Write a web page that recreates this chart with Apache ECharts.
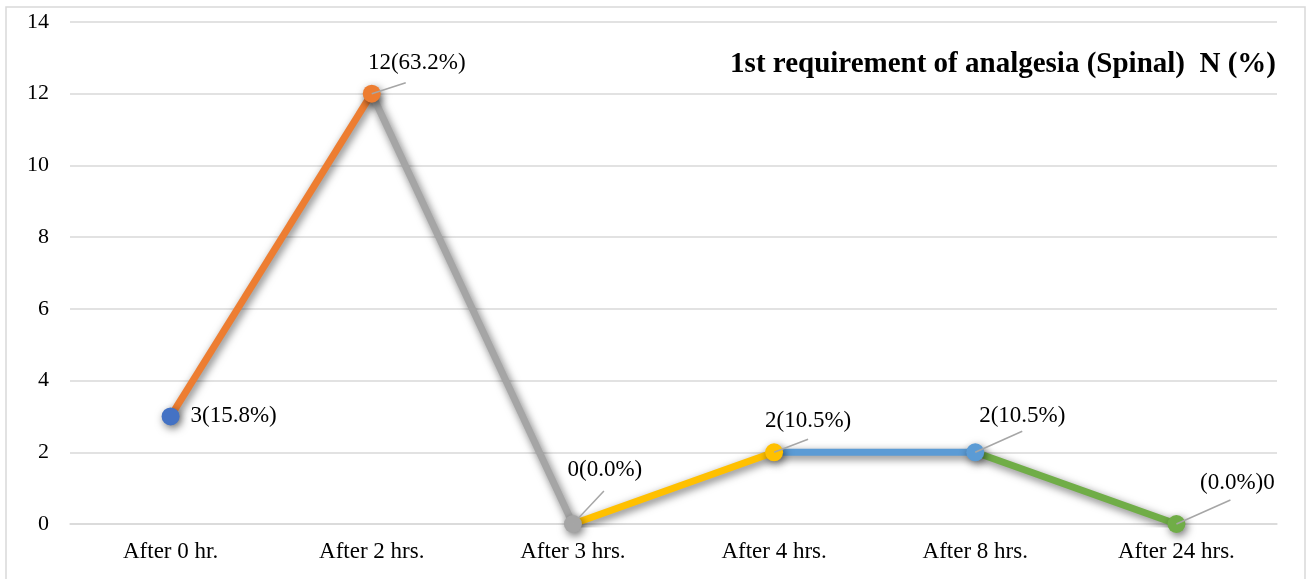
<!DOCTYPE html>
<html>
<head>
<meta charset="utf-8">
<script src="https://cdn.jsdelivr.net/npm/echarts@6/dist/echarts.min.js"></script>
<style>
  html, body { margin: 0; padding: 0; background: #fff; }
  #chart { width: 1308px; height: 579px; }
</style>
</head>
<body>
<div id="chart"></div>
<script>
const categories = ['After 0 hr.', 'After 2 hrs.', 'After 3 hrs.', 'After 4 hrs.', 'After 8 hrs.', 'After 24 hrs.']
const counts = [3, 12, 0, 2, 2, 0]
const labelTexts = ['3(15.8%)', '12(63.2%)', '0(0.0%)', '2(10.5%)', '2(10.5%)', '(0.0%)0']
const yTicks = [0, 2, 4, 6, 8, 10, 12, 14]

// excel "vary colors by point" palette
const pointColors = ['#4472C4', '#ED7D31', '#A5A5A5', '#FFC000', '#5B9BD5', '#70AD47']
// label offsets from the marker centre (px), and leader line ends, like the dragged labels
const labelOffsets = [[63, 0], [45, -31], [32, -54], [34, -31], [47, -36], [61, -41]]
const leaderEnds = [null, [34, -11], [31, -33], [34, -13], [47, -21], [54, -24]]

const font = '"Liberation Serif", "Times New Roman", serif'
const shadow = {
    shadowColor: 'rgba(0,0,0,0.55)',
    shadowBlur: 8,
    shadowOffsetX: 2,
    shadowOffsetY: 3
}

var myChart = echarts.init(document.getElementById('chart'))

const segments = counts.slice(0, -1).map((v, i) => ({
    type: 'line',
    data: counts.map((c, j) => (j === i || j === i + 1) ? c : null),
    showSymbol: false,
    silent: true,
    z: 2,
    lineStyle: Object.assign({ color: pointColors[i + 1], width: 7 }, shadow)
}))

const points = {
    type: 'scatter',
    symbolSize: 18,
    z: 3,
    silent: true,
    data: counts.map((c, i) => ({
        value: c,
        itemStyle: { color: pointColors[i] }
    })),
    itemStyle: Object.assign({ opacity: 1 }, shadow),
    label: {
        show: true,
        position: 'inside',
        color: '#000',
        fontFamily: font,
        fontSize: 23,
        formatter: (p) => labelTexts[p.dataIndex]
    },
    labelLayout: (p) => ({ dx: labelOffsets[p.dataIndex][0], dy: labelOffsets[p.dataIndex][1] })
}

// short grey leader lines from the marker to its label
const leaders = {
    type: 'custom',
    z: 4,
    silent: true,
    data: counts.map((c, i) => [i, c]),
    renderItem: (params, api) => {
        const end = leaderEnds[params.dataIndex]
        if (!end) return null
        const p = api.coord([api.value(0), api.value(1)])
        return {
            type: 'line',
            shape: { x1: p[0], y1: p[1], x2: p[0] + end[0], y2: p[1] + end[1] },
            style: { stroke: '#a6a6a6', lineWidth: 1.5 }
        }
    }
}

const option = {
    animation: false,
    title: {
        text: '1st requirement of analgesia (Spinal)  N (%)',
        right: 27,
        top: 45,
        textStyle: {
            fontFamily: font,
            fontWeight: 'bold',
            fontSize: 29,
            color: '#000'
        }
    },
    graphic: [{
        type: 'rect',
        shape: { x: 6, y: 7, width: 1299, height: 600 },
        style: { fill: 'none', stroke: '#d9d9d9', lineWidth: 1.5 },
        silent: true
    }],
    grid: {
        left: 70,
        right: 31,
        top: 22,
        bottom: 55
    },
    xAxis: {
        type: 'category',
        data: categories,
        boundaryGap: true,
        axisLine: { lineStyle: { color: '#d9d9d9', width: 1.5 } },
        axisTick: { show: false },
        axisLabel: {
            color: '#000',
            fontFamily: font,
            fontSize: 23,
            margin: 16
        }
    },
    yAxis: {
        type: 'value',
        min: yTicks[0],
        max: yTicks[yTicks.length - 1],
        interval: 2,
        axisLine: { show: false },
        axisTick: { show: false },
        splitLine: { lineStyle: { color: '#d9d9d9', width: 1.5 } },
        axisLabel: {
            color: '#000',
            fontFamily: font,
            fontSize: 22,
            margin: 21
        }
    },
    series: [...segments, points, leaders]
}

myChart.setOption(option)
</script>
</body>
</html>
